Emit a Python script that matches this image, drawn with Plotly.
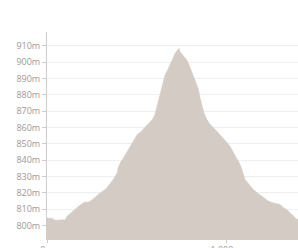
import plotly.graph_objects as go

distance_m = [0, 15, 33, 39, 60, 80, 101, 110, 125, 145, 160, 173, 188, 201, 215, 229, 243, 257,
              270, 285, 300, 313, 328, 341, 355, 369, 380, 391, 398, 410, 425, 445, 460, 475,
              492, 505, 520, 538, 555, 575, 590, 603, 617, 631, 645, 659, 673, 687, 700, 715,
              727, 737, 743, 755, 768, 780, 795, 808, 817, 830, 845, 855, 864, 878, 892, 910,
              929, 950, 976, 1000, 1022, 1045, 1069, 1080, 1088, 1106, 1130, 1153, 1180, 1208,
              1235, 1264, 1285, 1302, 1320, 1339, 1358, 1376, 1390, 1402]
elevation_m = [804.5, 804.2, 804.3, 803.4, 803.2, 803.5, 803.3, 805.4, 807.0, 808.6, 810.2, 811.4,
               813.0, 813.8, 814.4, 814.2, 815.0, 815.9, 817.2, 819.0, 820.0, 821.0, 822.3, 824.0,
               825.8, 828.0, 830.0, 832.0, 835.5, 838.5, 841.0, 844.7, 847.5, 850.5, 854.0, 855.8,
               857.0, 859.0, 860.5, 863.0, 865.0, 868.0, 874.0, 881.7, 887.0, 892.0, 895.0, 898.0,
               901.5, 905.4, 907.2, 908.5, 906.4, 905.0, 903.0, 901.5, 898.0, 894.5, 892.0, 888.0,
               883.7, 878.0, 873.5, 868.5, 865.0, 862.0, 860.0, 857.5, 854.8, 851.5, 848.5, 844.0,
               840.0, 837.0, 834.4, 828.2, 825.0, 822.0, 819.5, 817.0, 815.0, 813.8, 813.2, 812.8,
               811.0, 809.7, 807.8, 805.6, 804.2, 803.5]

y_ticks = [800, 810, 820, 830, 840, 850, 860, 870, 880, 890, 900, 910]
y_tick_labels = [f"{v}m" for v in y_ticks]
x_ticks = [0, 1000]
x_tick_labels = ["0m", "1,000m"]

fill_color = "#d3cbc4"

fig = go.Figure(
    go.Scatter(
        x=distance_m,
        y=elevation_m,
        mode="lines",
        line=dict(color=fill_color, width=0.5, shape="linear"),
        fill="tozeroy",
        fillcolor=fill_color,
        hoverinfo="skip",
    )
)

fig.update_layout(
    width=298,
    height=248,
    margin=dict(l=47, r=0, t=32, b=9),
    paper_bgcolor="white",
    plot_bgcolor="white",
    showlegend=False,
    font=dict(family="Open Sans, Lato, sans-serif", size=9, color="#999999"),
)

fig.update_xaxes(
    range=[0, 1402],
    tickvals=x_ticks,
    ticktext=x_tick_labels,
    showgrid=False,
    zeroline=False,
    showline=True,
    linecolor="#cccccc",
    linewidth=1,
    ticks="outside",
    ticklen=3,
    tickcolor="#cccccc",
    tickfont=dict(size=9, color="#999999"),
    ticklabelstandoff=-1,
    automargin=False,
)

fig.update_yaxes(
    range=[791.7, 918.5],
    tickvals=y_ticks,
    ticktext=y_tick_labels,
    showgrid=True,
    gridcolor="#eeeeee",
    gridwidth=1,
    zeroline=False,
    showline=True,
    linecolor="#cccccc",
    linewidth=1,
    ticks="outside",
    ticklen=4,
    tickcolor="#cccccc",
    tickfont=dict(size=9, color="#999999"),
    automargin=False,
)

fig.write_html(
    "out.html",
    config={"displayModeBar": False},
    post_script="document.body.style.margin='0';document.body.style.overflow='hidden';",
)
